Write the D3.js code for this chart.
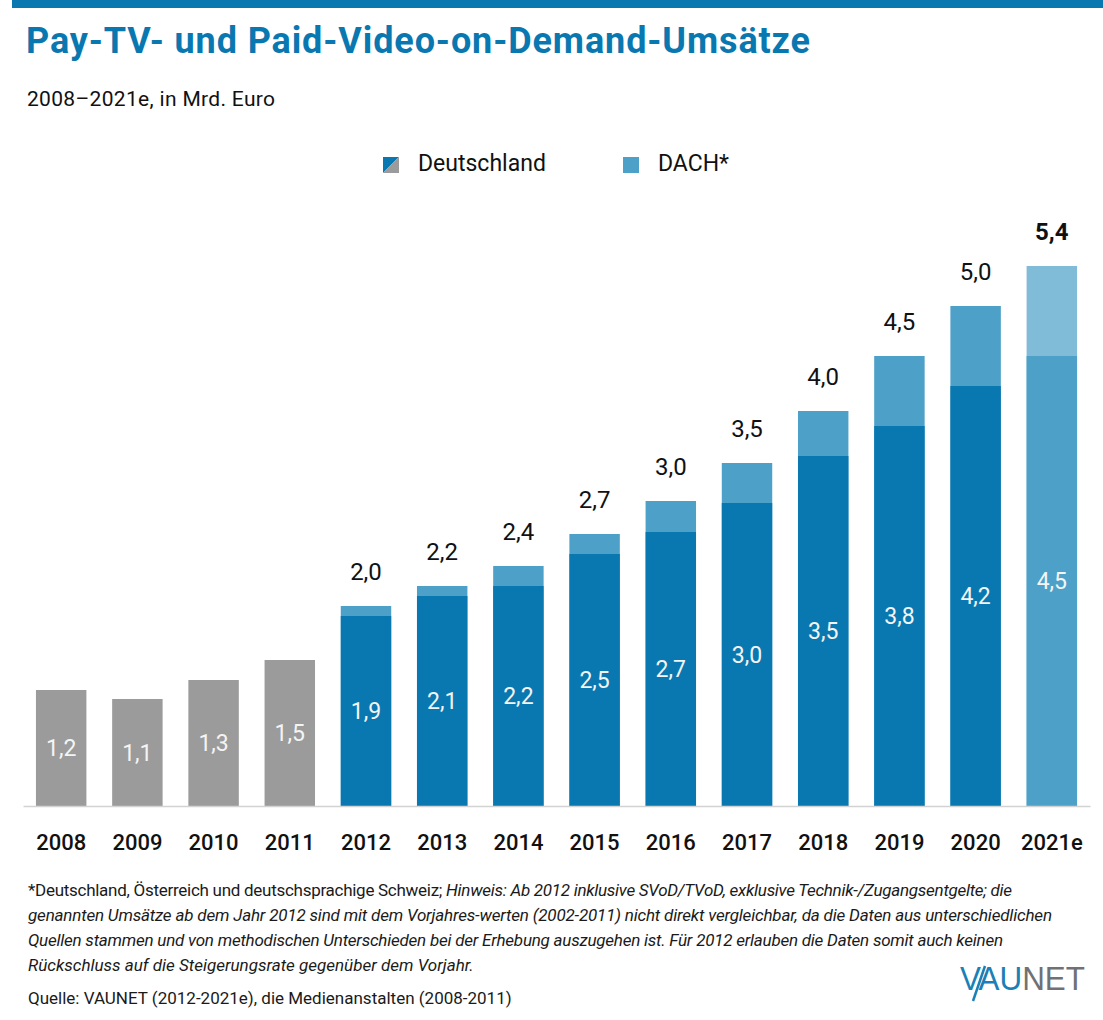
<!DOCTYPE html>
<html>
<head>
<meta charset="utf-8">
<script src="https://cdn.jsdelivr.net/npm/d3@7"></script>
<style>
  html, body { margin: 0; padding: 0; background: #fff; }
  svg { display: block; font-family: Roboto, "Noto Sans", sans-serif; }
</style>
</head>
<body>
<svg id="chart" width="1103" height="1020"></svg>
<script>
// values, in Mrd. Euro
var years = ["2008", "2009", "2010", "2011", "2012", "2013", "2014",
             "2015", "2016", "2017", "2018", "2019", "2020", "2021e"];
// Deutschland (2008-2011: die Medienanstalten, grey)
var deutschland = [1.16, 1.07, 1.26, 1.46, 1.90, 2.10, 2.20,
                   2.52, 2.74, 3.03, 3.50, 3.80, 4.20, 4.50];
// DACH total, only from 2012 on
var dach = [null, null, null, null, 2.00, 2.20, 2.40,
            2.72, 3.05, 3.43, 3.95, 4.50, 5.00, 5.40];
// printed labels, as in the original
var innerLabels = ["1,2", "1,1", "1,3", "1,5", "1,9", "2,1", "2,2",
                   "2,5", "2,7", "3,0", "3,5", "3,8", "4,2", "4,5"];
var totalLabels = [null, null, null, null, "2,0", "2,2", "2,4",
                   "2,7", "3,0", "3,5", "4,0", "4,5", "5,0", "5,4"];
var legendLabels = ["Deutschland", "DACH*"];

var BLUE = "#0a78b0", DACH_BLUE = "#4da0c8", LIGHT_BLUE = "#80bbd8", GREY = "#9b9b9b";

var svg = d3.select("#chart");

// top stripe
svg.append("rect").attr("x", 12).attr("y", 0).attr("width", 1091).attr("height", 8).attr("fill", BLUE);

svg.append("text")
  .attr("x", 26).attr("y", 53)
  .attr("font-size", 36).attr("font-weight", 700).attr("fill", BLUE)
  .attr("textLength", 784).attr("lengthAdjust", "spacing")
  .text("Pay-TV- und Paid-Video-on-Demand-Umsätze");

svg.append("text")
  .attr("x", 27).attr("y", 106)
  .attr("font-size", 21).attr("fill", "#111")
  .attr("textLength", 248).attr("lengthAdjust", "spacing")
  .text("2008–2021e, in Mrd. Euro");

// legend
var legend = svg.append("g");
var lx = [383, 623];
legend.selectAll("text").data(legendLabels).enter().append("text")
  .attr("x", function(d, i) { return lx[i] + 35; })
  .attr("y", 171)
  .attr("font-size", 23).attr("fill", "#111")
  .text(function(d) { return d; });
// Deutschland swatch: blue upper-left, grey lower-right
legend.append("path").attr("d", "M383,157 h16 L383,173 Z").attr("fill", BLUE);
legend.append("path").attr("d", "M399,157 v16 H383 Z").attr("fill", GREY);
legend.append("rect").attr("x", 623).attr("y", 157).attr("width", 16).attr("height", 16).attr("fill", DACH_BLUE);

// scales
var x = d3.scaleBand().domain(years).range([23, 1090]).paddingInner(0.338).paddingOuter(0.17);
var y = d3.scaleLinear().domain([0, 5.4]).range([806, 266]);

function idx(d) { return years.indexOf(d); }
function isEstimate(d) { return /e$/.test(d); }
function hasDach(d) { return dach[idx(d)] != null; }

var bars = svg.append("g").selectAll("g").data(years).enter().append("g");

// DACH part (full total height, the Deutschland part is drawn on top)
bars.filter(hasDach)
  .append("rect")
  .attr("x", function(d) { return x(d); })
  .attr("width", x.bandwidth())
  .attr("y", function(d) { return y(dach[idx(d)]); })
  .attr("height", function(d) { return y(0) - y(dach[idx(d)]); })
  .attr("fill", function(d) { return isEstimate(d) ? LIGHT_BLUE : DACH_BLUE; });

bars.append("rect")
  .attr("x", function(d) { return x(d); })
  .attr("width", x.bandwidth())
  .attr("y", function(d) { return y(deutschland[idx(d)]); })
  .attr("height", function(d) { return y(0) - y(deutschland[idx(d)]); })
  .attr("fill", function(d) {
    if (!hasDach(d)) return GREY;
    return isEstimate(d) ? DACH_BLUE : BLUE;
  });

// labels inside the Deutschland part
bars.append("text")
  .attr("x", function(d) { return x(d) + x.bandwidth() / 2; })
  .attr("y", function(d) { return (y(0) + y(deutschland[idx(d)])) / 2 + 8; })
  .attr("text-anchor", "middle")
  .attr("font-size", 23).attr("fill", "#f4f4f4")
  .text(function(d) { return innerLabels[idx(d)]; });

// totals above
bars.filter(hasDach)
  .append("text")
  .attr("x", function(d) { return x(d) + x.bandwidth() / 2; })
  .attr("y", function(d) { return y(dach[idx(d)]) - 26; })
  .attr("text-anchor", "middle")
  .attr("font-size", 24).attr("fill", "#111")
  .attr("font-weight", function(d) { return isEstimate(d) ? 700 : 400; })
  .text(function(d) { return totalLabels[idx(d)]; });

// baseline + year labels
var axis = svg.append("g").attr("transform", "translate(0," + y(0) + ")")
  .call(d3.axisBottom(x).tickSize(0).tickPadding(0));
axis.select(".domain").attr("stroke", "#d2d2d2").attr("stroke-width", 1.5);
axis.selectAll("text")
  .attr("dy", null).attr("y", 44)
  .attr("font-family", "Roboto, sans-serif")
  .attr("font-size", 22).attr("font-weight", 500).attr("fill", "#111");

// footnote
var notes = [
  { up: "*Deutschland, Österreich und deutschsprachige Schweiz; ",
    it: "Hinweis: Ab 2012 inklusive SVoD/TVoD, exklusive Technik-/Zugangsentgelte; die", w: 984 },
  { up: "", it: "genannten Umsätze ab dem Jahr 2012 sind mit dem Vorjahres-werten (2002-2011) nicht direkt vergleichbar, da die Daten aus unterschiedlichen", w: 1024 },
  { up: "", it: "Quellen stammen und von methodischen Unterschieden bei der Erhebung auszugehen ist. Für 2012 erlauben die Daten somit auch keinen", w: 975 },
  { up: "", it: "Rückschluss auf die Steigerungsrate gegenüber dem Vorjahr.", w: null }
];
var foot = svg.append("g").attr("font-size", 17).attr("fill", "#1a1a1a");
foot.selectAll("text").data(notes).enter().append("text")
  .attr("x", 28)
  .attr("y", function(d, i) { return 896 + i * 25; })
  .attr("textLength", function(d) { return d.w; })
  .attr("lengthAdjust", function(d) { return d.w ? "spacing" : null; })
  .each(function(d) {
    var t = d3.select(this);
    if (d.up) t.append("tspan").text(d.up);
    t.append("tspan").attr("font-style", "italic").text(d.it);
  });
foot.append("text")
  .attr("x", 28).attr("y", 1004)
  .text("Quelle: VAUNET (2012-2021e), die Medienanstalten (2008-2011)");

// VAUNET logo
var logo = svg.append("text")
  .attr("x", 960).attr("y", 990)
  .attr("font-family", "'Liberation Sans', Arial, sans-serif")
  .attr("font-size", 34)
  .attr("textLength", 125).attr("lengthAdjust", "spacingAndGlyphs");
logo.append("tspan").attr("fill", "#1a80b6").text("VAU");
logo.append("tspan").attr("fill", "#707174").text("NET");
svg.append("line")
  .attr("x1", 985).attr("y1", 966).attr("x2", 973).attr("y2", 1001)
  .attr("stroke", "#1a80b6").attr("stroke-width", 2.5);
</script>
</body>
</html>
